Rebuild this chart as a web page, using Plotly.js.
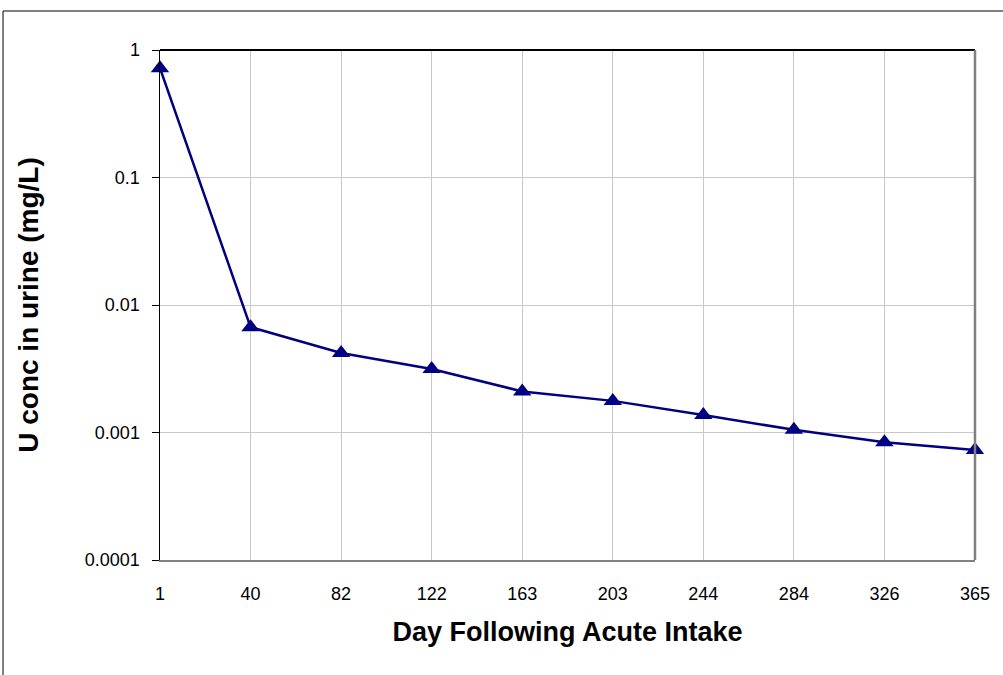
<!DOCTYPE html>
<html>
<head>
<meta charset="utf-8">
<script src="https://cdn.plot.ly/plotly-3.0.1.min.js"></script>
<style>html,body{margin:0;padding:0;background:#fff;}#chart{width:1003px;height:675px;}</style>
</head>
<body>
<div id="chart"></div>
<script>
var days = ["1", "40", "82", "122", "163", "203", "244", "284", "326", "365"];
var uConc = [0.72, 0.0067, 0.0042, 0.00315, 0.0021, 0.00177, 0.00137, 0.00105, 0.00084, 0.00073];
var yTickVals = [0.0001, 0.001, 0.01, 0.1, 1];
var yTickText = ["0.0001", "0.001", "0.01", "0.1", "1"];

var FONT = "Liberation Sans, Arial, sans-serif";

var trace = {
  x: days,
  y: uConc,
  type: "scatter",
  mode: "lines+markers",
  line: {color: "#000080", width: 2.5},
  marker: {symbol: "triangle-up", size: 16, color: "#000080"},
  cliponaxis: false,
  showlegend: false
};

var layout = {
  width: 1003,
  height: 675,
  margin: {l: 160, r: 28, t: 50, b: 115},
  paper_bgcolor: "#ffffff",
  plot_bgcolor: "#ffffff",
  font: {family: FONT, color: "#000000", size: 18},
  xaxis: {
    type: "category",
    range: [0, days.length - 1],
    tickvals: days,
    ticktext: days,
    showgrid: true,
    gridcolor: "#c8c8c8",
    gridwidth: 1,
    showline: true,
    linecolor: "#808080",
    linewidth: 2,
    ticks: "",
    ticklabelstandoff: 16,
    tickfont: {size: 18, family: FONT},
    zeroline: false,
    title: {text: "Day Following Acute Intake", font: {size: 27, family: FONT, weight: "bold"}, standoff: 20}
  },
  yaxis: {
    type: "log",
    range: [-4, 0],
    tickvals: yTickVals,
    ticktext: yTickText,
    showgrid: true,
    gridcolor: "#c8c8c8",
    gridwidth: 1,
    showline: true,
    linecolor: "#000000",
    linewidth: 1.5,
    ticks: "outside",
    ticklen: 7,
    tickcolor: "#000000",
    ticklabelstandoff: 8,
    tickfont: {size: 18, family: FONT},
    zeroline: false,
    title: {text: "U conc in urine (mg/L)", font: {size: 28, family: FONT, weight: "bold"}, standoff: 38}
  },
  shapes: [
    {type: "line", xref: "paper", yref: "paper", x0: 0, x1: 1, y0: 1, y1: 1, line: {color: "#000000", width: 2}},
    {type: "line", xref: "paper", yref: "paper", x0: 1, x1: 1, y0: 0, y1: 1, line: {color: "#808080", width: 2.5}},
    {type: "rect", xref: "paper", yref: "paper", x0: -0.1926, x1: 1.1, y0: -0.3, y1: 1.0765, line: {color: "#000000", width: 1}, layer: "below"}
  ]
};

Plotly.newPlot("chart", [trace], layout, {staticPlot: true, displayModeBar: false});
</script>
</body>
</html>
